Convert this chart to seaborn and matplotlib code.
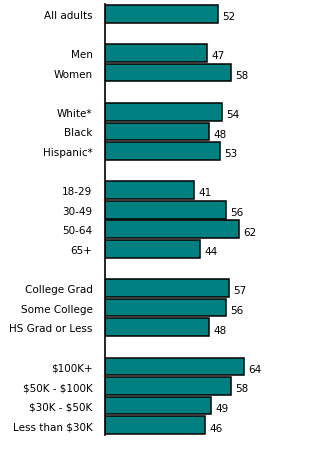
import matplotlib
matplotlib.use("Agg")
import matplotlib.pyplot as plt
import seaborn as sns
import pandas as pd
import numpy as np

categories = ["All adults", " ", "Men", "Women", "  ", "White*", "Black", "Hispanic*", "   ",
              "18-29", "30-49", "50-64", "65+", "    ",
              "College Grad", "Some College", "HS Grad or Less", "     ",
              "$100K+", "$50K - $100K", "$30K - $50K", "Less than $30K"]
values = [52, np.nan, 47, 58, np.nan, 54, 48, 53, np.nan,
          41, 56, 62, 44, np.nan,
          57, 56, 48, np.nan,
          64, 58, 49, 46]

df = pd.DataFrame({"group": categories, "pct": values})

sns.set_style("white")
plt.rcParams["font.family"] = ["DejaVu Sans"]
plt.rcParams["text.parse_math"] = False

fig = plt.figure(figsize=(3.32, 4.52), dpi=100)
ax = fig.add_axes([105 / 332, 1 - 436 / 452, 215 / 332, 431 / 452])

sns.barplot(data=df.dropna(), x="pct", y="group", order=categories, orient="h",
            color="#008080", saturation=1, edgecolor="black", linewidth=1.1,
            width=0.9, ax=ax)

for i, v in enumerate(values):
    if not np.isnan(v):
        ax.text(v + 2.0, i + 0.12, f"{int(v)}", va="center", ha="left",
                fontsize=7.5, color="black")

ax.set_xlim(0, 215 / 2.167)
ax.set_ylim(len(categories) - 0.5, -0.5)
ax.set_xlabel("")
ax.set_ylabel("")
ax.set_xticks([])
ax.tick_params(axis="y", length=0, pad=9, labelsize=7.5, labelcolor="black")
for s in ["top", "right", "bottom"]:
    ax.spines[s].set_visible(False)
ax.spines["left"].set_color("black")
ax.spines["left"].set_linewidth(1.2)

fig.savefig("out.png", dpi=100)
